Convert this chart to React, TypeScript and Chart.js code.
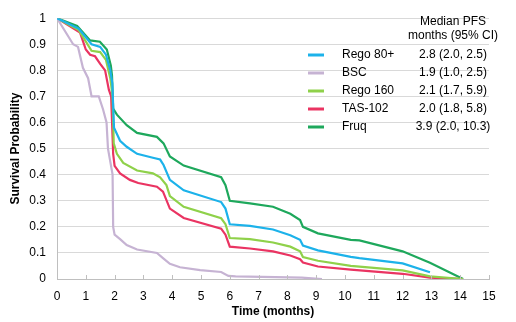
import React, { useEffect, useRef } from "react";
import { Chart, registerables } from "chart.js";

Chart.register(...registerables);

// Series labels and legend values
const seriesNames = ["Rego 80+", "BSC", "Rego 160", "TAS-102", "Fruq"];
const medianPFS = ["2.8 (2.0, 2.5)", "1.9 (1.0, 2.5)", "2.1 (1.7, 5.9)", "2.0 (1.8, 5.8)", "3.9 (2.0, 10.3)"];
const seriesColors = ["#1cb2ea", "#c6b3d3", "#8fd14a", "#ea3462", "#1ea85c"];

// Kaplan-Meier style curves (time in months, survival probability)
const rego80Time = [0, 0.75, 1.2, 1.5, 1.7, 1.85, 1.92, 1.98, 2.19, 2.42, 2.78, 3.33, 3.58, 3.7, 3.92, 4.4, 5.7, 5.85, 6.0, 6.7, 7.5, 8.1, 8.44, 8.54, 9.06, 10.2, 10.5, 12.0, 12.95];
const rego80Surv = [1, 0.96, 0.9, 0.89, 0.86, 0.8, 0.75, 0.58, 0.53, 0.507, 0.48, 0.465, 0.458, 0.437, 0.38, 0.34, 0.295, 0.27, 0.21, 0.204, 0.19, 0.168, 0.15, 0.128, 0.11, 0.085, 0.08, 0.06, 0.026];

const bscTime = [0, 0.56, 0.73, 0.9, 1.08, 1.2, 1.45, 1.6, 1.72, 1.77, 1.85, 1.93, 1.95, 2.0, 2.19, 2.42, 2.78, 3.47, 3.68, 3.92, 4.27, 4.97, 5.7, 5.95, 6.2, 8.5, 9.2];
const bscSurv = [1, 0.9, 0.89, 0.81, 0.77, 0.7, 0.7, 0.65, 0.6, 0.5, 0.45, 0.4, 0.2, 0.17, 0.153, 0.13, 0.113, 0.1, 0.08, 0.058, 0.045, 0.034, 0.027, 0.012, 0.01, 0.005, 0];

const rego160Time = [0, 0.75, 1.2, 1.5, 1.7, 1.85, 1.93, 1.97, 2.08, 2.3, 2.78, 3.33, 3.58, 3.8, 3.92, 4.4, 5.7, 5.85, 6.0, 6.7, 7.5, 8.1, 8.44, 8.54, 9.06, 10.2, 12.0, 12.95, 14.1];
const rego160Surv = [1, 0.955, 0.875, 0.87, 0.84, 0.77, 0.7, 0.52, 0.48, 0.445, 0.416, 0.405, 0.39, 0.36, 0.318, 0.277, 0.233, 0.21, 0.157, 0.153, 0.14, 0.124, 0.106, 0.084, 0.07, 0.05, 0.033, 0.01, 0];

const tasTime = [0, 0.8, 1.0, 1.15, 1.32, 1.5, 1.67, 1.8, 1.88, 1.95, 2.0, 2.19, 2.53, 2.82, 3.47, 3.68, 3.92, 4.4, 5.7, 5.85, 6.0, 6.7, 7.5, 8.1, 8.44, 8.54, 9.06, 10.2, 12.0, 12.95, 14.1];
const tasSurv = [1, 0.945, 0.88, 0.86, 0.854, 0.825, 0.8, 0.726, 0.7, 0.48, 0.434, 0.405, 0.38, 0.368, 0.354, 0.335, 0.27, 0.234, 0.193, 0.17, 0.124, 0.117, 0.106, 0.09, 0.076, 0.063, 0.048, 0.036, 0.02, 0.005, 0];

const fruqTime = [0, 0.7, 1.15, 1.49, 1.73, 1.87, 1.91, 1.95, 2.08, 2.42, 2.78, 3.47, 3.7, 3.92, 4.4, 5.7, 5.85, 6.0, 6.7, 7.5, 8.1, 8.44, 8.54, 9.06, 10.2, 10.5, 12.0, 12.95, 14.1];
const fruqSurv = [1, 0.97, 0.915, 0.91, 0.88, 0.818, 0.78, 0.653, 0.63, 0.59, 0.56, 0.545, 0.52, 0.47, 0.435, 0.39, 0.36, 0.3, 0.29, 0.277, 0.25, 0.226, 0.2, 0.175, 0.15, 0.148, 0.106, 0.062, 0];

const xTicks = [0, 1, 2, 3, 4, 5, 6, 7, 8, 9, 10, 11, 12, 13, 14, 15];
const yTicks = [0, 0.1, 0.2, 0.3, 0.4, 0.5, 0.6, 0.7, 0.8, 0.9, 1];

const seriesTimes = [rego80Time, bscTime, rego160Time, tasTime, fruqTime];
const seriesSurv = [rego80Surv, bscSurv, rego160Surv, tasSurv, fruqSurv];

const FONT = "Arial, 'Liberation Sans', sans-serif";

const legendPlugin = {
  id: "pfsLegend",
  afterDraw(chart: any) {
    const { ctx, chartArea } = chart;
    const right = chartArea.right;
    const valueX = right - 36;
    ctx.save();
    ctx.fillStyle = "#000";
    ctx.font = `12px ${FONT}`;
    ctx.textBaseline = "middle";
    ctx.textAlign = "center";
    ctx.fillText("Median PFS", valueX, 22);
    ctx.fillText("months (95% CI)", valueX, 36);
    seriesNames.forEach((name, i) => {
      const y = 55 + i * 18;
      ctx.strokeStyle = seriesColors[i];
      ctx.lineWidth = 3;
      ctx.beginPath();
      ctx.moveTo(right - 181, y);
      ctx.lineTo(right - 165, y);
      ctx.stroke();
      ctx.textAlign = "left";
      ctx.fillText(name, right - 147, y);
      ctx.textAlign = "center";
      ctx.fillText(medianPFS[i], valueX, y);
    });
    ctx.restore();
  },
};

const innerTicksPlugin = {
  id: "innerTicks",
  afterDatasetsDraw(chart: any) {
    const { ctx, chartArea, scales } = chart;
    ctx.save();
    ctx.strokeStyle = "#bfbfbf";
    ctx.lineWidth = 1;
    xTicks.forEach((t) => {
      const x = Math.round(scales.x.getPixelForValue(t)) + 0.5;
      ctx.beginPath();
      ctx.moveTo(x, chartArea.bottom - 4);
      ctx.lineTo(x, chartArea.bottom);
      ctx.stroke();
    });
    ctx.restore();
  },
};

export default function App() {
  const canvasRef = useRef<HTMLCanvasElement | null>(null);

  useEffect(() => {
    if (!canvasRef.current) return;
    const datasets = seriesNames.map((name, i) => ({
      label: name,
      data: seriesTimes[i].map((t, j) => ({ x: t, y: seriesSurv[i][j] })),
      borderColor: seriesColors[i],
      backgroundColor: seriesColors[i],
      borderWidth: 2.2,
      pointRadius: 0,
      tension: 0,
      fill: false,
      showLine: true,
    }));
    // draw Fruq on top order: reverse drawing so first in list on top? keep natural
    const chart = new Chart(canvasRef.current, {
      type: "scatter",
      data: { datasets },
      options: {
        animation: false,
        responsive: false,
        maintainAspectRatio: false,
        layout: { padding: { left: 0, right: 27, top: 5, bottom: 0 } },
        plugins: {
          legend: { display: false },
          tooltip: { enabled: false },
        },
        scales: {
          x: {
            type: "linear",
            min: 0,
            max: 15,
            afterBuildTicks: (scale: any) => {
              scale.ticks = xTicks.map((v) => ({ value: v }));
            },
            afterFit: (scale: any) => {
              scale.height = 43;
            },
            grid: { display: true, drawOnChartArea: false, drawTicks: false, color: "#bfbfbf" },
            border: { display: true, color: "#bfbfbf", width: 1 },
            ticks: {
              padding: 10,
              color: "#000",
              font: { family: FONT, size: 12 },
              maxRotation: 0,
              autoSkip: false,
            },
            title: {
              display: true,
              text: "Time (months)",
              color: "#000",
              font: { family: FONT, size: 12, weight: "bold" },
              padding: { top: 0, bottom: 3 },
            },
          },
          y: {
            type: "linear",
            min: 0,
            max: 1,
            afterBuildTicks: (scale: any) => {
              scale.ticks = yTicks.map((v) => ({ value: v }));
            },
            afterFit: (scale: any) => {
              scale.width = 57;
            },
            grid: { display: true, drawTicks: false, color: "#d9d9d9", lineWidth: 1 },
            border: { display: true, color: "#bfbfbf", width: 1 },
            ticks: {
              padding: 11,
              color: "#000",
              font: { family: FONT, size: 12 },
              callback: (v: any) => String(Math.round(Number(v) * 10) / 10),
            },
            title: {
              display: true,
              text: "Survival Probability",
              color: "#000",
              font: { family: FONT, size: 12, weight: "bold" },
              padding: { top: 8, bottom: 0 },
            },
          },
        },
      },
      plugins: [innerTicksPlugin, legendPlugin],
    });
    return () => chart.destroy();
  }, []);

  return (
    <div style={{ position: "fixed", left: 0, top: 0, width: 516, height: 322, background: "#fff" }}>
      <canvas ref={canvasRef} width={516} height={322} style={{ width: 516, height: 322, display: "block" }} />
    </div>
  );
}
